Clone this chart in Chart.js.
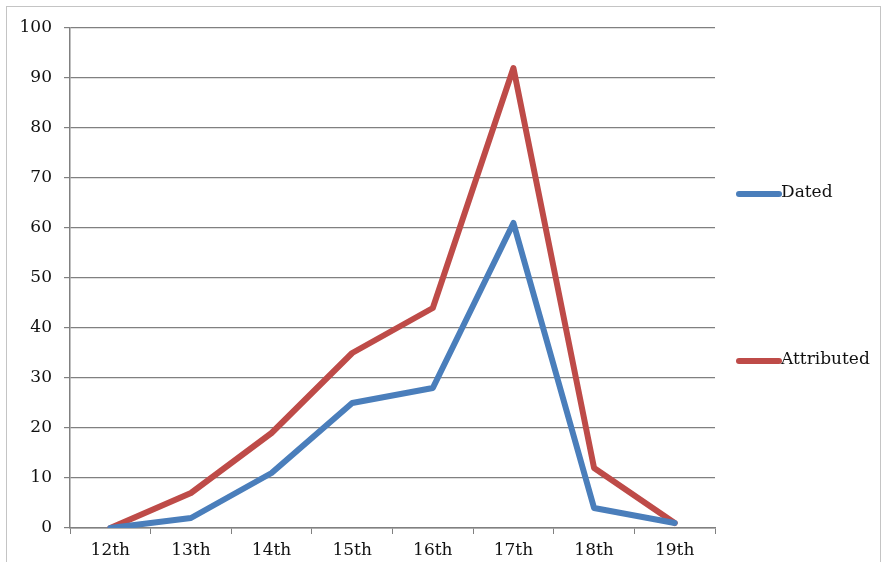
<!DOCTYPE html>
<html>
<head>
<meta charset="utf-8">
<script src="https://cdn.jsdelivr.net/npm/chart.js@4/dist/chart.umd.min.js"></script>
<style>
  html, body { margin: 0; padding: 0; background: #fff; overflow: hidden; }
  #marco { position: absolute; left: 6px; top: 6px; width: 873px; height: 600px; border: 1px solid #c4c4c4; }
  #lienzo { position: absolute; left: 0; top: 0; }
</style>
</head>
<body>
<div id="marco"></div>
<canvas id="lienzo" width="886" height="562"></canvas>
<script>
// Datos
const siglos = ['12th', '13th', '14th', '15th', '16th', '17th', '18th', '19th'];
const fechados = [0, 2, 11, 25, 28, 61, 4, 1];
const atribuidos = [0, 7, 19, 35, 44, 92, 12, 1];
const nombresSeries = ['Dated', 'Attributed'];
const coloresSeries = ['#4a7ebb', '#be4b48'];

const fuente = { family: '"DejaVu Serif", serif', size: 17 };

// leyenda separada a la derecha, como en el original
const leyendaLateral = {
  id: 'leyendaLateral',
  afterDraw(chart) {
    const c = chart.ctx;
    const filas = [194, 361];
    c.save();
    c.font = '17px "DejaVu Serif", serif';
    c.textBaseline = 'middle';
    c.fillStyle = '#111';
    c.lineCap = 'round';
    c.lineWidth = 6;
    nombresSeries.forEach((nombre, i) => {
      c.strokeStyle = coloresSeries[i];
      c.beginPath();
      c.moveTo(739, filas[i]);
      c.lineTo(779, filas[i]);
      c.stroke();
      c.fillText(nombre, 781, filas[i] - 1);
    });
    c.restore();
  }
};

const ctx = document.getElementById('lienzo').getContext('2d');

new Chart(ctx, {
  type: 'line',
  data: {
    labels: siglos,
    datasets: [
      {
        label: nombresSeries[0],
        data: fechados,
        borderColor: coloresSeries[0],
        backgroundColor: coloresSeries[0],
        borderWidth: 6,
        borderJoinStyle: 'round',
        borderCapStyle: 'round',
        pointRadius: 0,
        tension: 0
      },
      {
        label: nombresSeries[1],
        data: atribuidos,
        borderColor: coloresSeries[1],
        backgroundColor: coloresSeries[1],
        borderWidth: 6,
        borderJoinStyle: 'round',
        borderCapStyle: 'round',
        pointRadius: 0,
        tension: 0
      }
    ]
  },
  options: {
    responsive: false,
    animation: false,
    layout: { padding: { left: 0, right: 171, top: 28, bottom: 0 } },
    plugins: {
      legend: { display: false },
      tooltip: { enabled: false }
    },
    scales: {
      x: {
        offset: true,
        grid: {
          offset: true,
          drawOnChartArea: false,
          drawTicks: true,
          tickLength: 6,
          color: '#808080'
        },
        border: { color: '#808080', width: 1.5 },
        ticks: { font: fuente, color: '#111', padding: 6, maxRotation: 0 },
        afterFit(scale) { scale.height = 34; }
      },
      y: {
        min: 0,
        max: 100,
        ticks: { stepSize: 10, font: fuente, color: '#111', padding: 12 },
        grid: { color: '#808080', lineWidth: 1.2, tickLength: 6 },
        border: { color: '#808080', width: 1.5 },
        afterFit(scale) { scale.width = 70; }
      }
    }
  },
  plugins: [leyendaLateral]
});
</script>
</body>
</html>
